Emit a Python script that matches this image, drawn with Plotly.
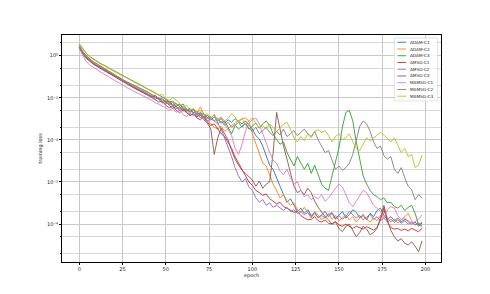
import plotly.graph_objects as go

# epochs sampled every 2 epochs
EPOCHS = list(range(0, 200, 2))

SERIES_NAMES = ["ADAM-C1", "ADAM-C2", "ADAM-C3", "AMSG-C1", "AMSG-C2", "AMSG-C3",
                "MAMSG-C1", "MAMSG-C2", "MAMSG-C3"]

ADAM_C1 = [
    1.74, 1.26, 1.0, 0.83, 0.72, 0.65, 0.575, 0.51, 0.457, 0.407,
    0.363, 0.324, 0.288, 0.257, 0.234, 0.214, 0.191, 0.174, 0.158, 0.145,
    0.135, 0.117, 0.112, 9.5e-2, 9.3e-2, 7.9e-2, 8.3e-2, 6.8e-2, 6.3e-2, 7.1e-2,
    5.5e-2, 4.9e-2, 5.6e-2, 4.4e-2, 4.7e-2, 3.8e-2, 4.2e-2, 3.4e-2, 3.0e-2, 3.5e-2,
    2.8e-2, 3.2e-2, 2.5e-2, 3.0e-2, 2.6e-2, 3.2e-2, 2.75e-2, 2.4e-2, 2.8e-2, 2.2e-2,
    1.8e-2, 1.26e-2, 1.05e-2, 7.1e-3, 4.0e-3, 2.5e-3, 2.0e-3, 1.2e-3, 7.9e-4, 5.0e-4,
    3.3e-4, 4.0e-4, 2.8e-4, 2.0e-4, 2.4e-4, 1.8e-4, 2.2e-4, 1.6e-4, 1.9e-4, 1.4e-4,
    1.66e-4, 2.0e-4, 1.5e-4, 1.8e-4, 1.3e-4, 1.6e-4, 2.0e-4, 1.4e-4, 1.66e-4, 2.2e-4,
    1.9e-4, 1.4e-4, 1.6e-4, 1.26e-4, 1.8e-4, 1.5e-4, 2.1e-4, 2.4e-4, 1.6e-4, 1.3e-4,
    1.5e-4, 1.2e-4, 1.4e-4, 1.12e-4, 1.3e-4, 1.2e-4, 1.0e-4, 1.12e-4, 8.9e-5, 1.05e-4,
]

ADAM_C2 = [
    1.70, 1.23, 0.977, 0.813, 0.708, 0.631, 0.562, 0.501, 0.447, 0.398,
    0.355, 0.316, 0.282, 0.251, 0.229, 0.209, 0.186, 0.170, 0.155, 0.141,
    0.126, 0.120, 0.102, 0.1, 8.3e-2, 8.9e-2, 7.2e-2, 6.6e-2, 7.6e-2, 6.0e-2,
    5.0e-2, 5.5e-2, 4.5e-2, 5.0e-2, 4.5e-2, 6.0e-2, 4.0e-2, 2.8e-2, 2.4e-2, 2.0e-2,
    1.8e-2, 2.1e-2, 1.6e-2, 1.9e-2, 2.2e-2, 2.5e-2, 2.8e-2, 3.2e-2, 3.3e-2, 2.8e-2,
    1.4e-2, 7.9e-3, 5.0e-3, 2.8e-3, 2.4e-3, 1.4e-3, 8.9e-4, 6.3e-4, 4.2e-4, 5.0e-4,
    3.5e-4, 2.8e-4, 3.2e-4, 2.2e-4, 1.9e-4, 2.5e-4, 1.8e-4, 1.4e-4, 2.0e-4, 1.66e-4,
    1.26e-4, 1.5e-4, 1.8e-4, 1.3e-4, 1.6e-4, 1.2e-4, 1.4e-4, 1.66e-4, 1.26e-4, 1.5e-4,
    1.12e-4, 1.4e-4, 1.74e-4, 1.3e-4, 1.12e-4, 1.4e-4, 1.2e-4, 1.6e-4, 2.0e-4, 1.4e-4,
    1.12e-4, 1.3e-4, 1.05e-4, 1.26e-4, 1.5e-4, 1.8e-4, 1.2e-4, 9.5e-5, 1.05e-4, 8.3e-5,
]

ADAM_C3 = [
    1.91, 1.45, 1.15, 0.955, 0.832, 0.741, 0.661, 0.603, 0.537, 0.490,
    0.437, 0.398, 0.355, 0.324, 0.288, 0.263, 0.240, 0.214, 0.195, 0.178,
    0.158, 0.145, 0.129, 0.117, 0.105, 9.3e-2, 7.9e-2, 8.3e-2, 6.9e-2, 6.3e-2,
    7.1e-2, 5.2e-2, 4.7e-2, 5.4e-2, 4.0e-2, 4.4e-2, 3.5e-2, 3.8e-2, 3.2e-2, 2.8e-2,
    3.3e-2, 2.5e-2, 2.8e-2, 1.9e-2, 1.4e-2, 2.2e-2, 2.6e-2, 2.0e-2, 2.4e-2, 1.8e-2,
    2.1e-2, 2.5e-2, 1.9e-2, 2.4e-2, 2.8e-2, 2.2e-2, 1.4e-2, 1.0e-2, 7.9e-3, 8.9e-3,
    5.0e-3, 3.5e-3, 2.4e-3, 4.0e-3, 2.8e-3, 2.0e-3, 2.8e-3, 1.6e-3, 2.5e-3, 1.4e-3,
    8.9e-4, 7.1e-4, 6.3e-4, 1.4e-3, 3.2e-3, 6.3e-3, 2.0e-2, 4.5e-2, 5.0e-2, 2.8e-2,
    8.9e-3, 3.2e-3, 1.4e-3, 8.9e-4, 6.3e-4, 5.0e-4, 4.5e-4, 3.8e-4, 4.2e-4, 3.2e-4,
    3.3e-4, 2.6e-4, 2.4e-4, 2.8e-4, 2.1e-4, 2.5e-4, 2.8e-4, 1.8e-4, 9.5e-5, 1.12e-4,
]

AMSG_C1 = [
    1.58, 1.15, 0.912, 0.759, 0.661, 0.589, 0.525, 0.468, 0.417, 0.372,
    0.331, 0.295, 0.263, 0.234, 0.214, 0.195, 0.174, 0.158, 0.145, 0.132,
    0.120, 0.105, 0.110, 8.9e-2, 7.6e-2, 8.3e-2, 6.6e-2, 5.6e-2, 6.3e-2, 5.0e-2,
    5.5e-2, 4.5e-2, 3.8e-2, 4.2e-2, 3.3e-2, 3.0e-2, 3.5e-2, 2.6e-2, 2.2e-2, 2.4e-2,
    1.8e-2, 1.4e-2, 1.2e-2, 8.9e-3, 6.3e-3, 4.0e-3, 2.8e-3, 2.0e-3, 1.4e-3, 1.0e-3,
    8.3e-4, 6.3e-4, 5.6e-4, 4.8e-4, 5.2e-4, 4.0e-4, 3.5e-4, 3.0e-4, 3.3e-4, 2.6e-4,
    2.4e-4, 2.1e-4, 1.9e-4, 2.0e-4, 1.6e-4, 1.4e-4, 1.26e-4, 1.3e-4, 1.5e-4, 1.2e-4,
    1.12e-4, 1.26e-4, 1.05e-4, 1.0e-4, 1.15e-4, 9.5e-5, 8.9e-5, 1.0e-4, 8.7e-5, 7.9e-5,
    8.9e-5, 8.3e-5, 7.6e-5, 8.7e-5, 7.9e-5, 7.2e-5, 8.3e-5, 1.26e-4, 2.4e-4, 1.12e-4,
    8.3e-5, 7.6e-5, 7.9e-5, 7.1e-5, 7.6e-5, 6.9e-5, 7.9e-5, 7.2e-5, 6.6e-5, 7.9e-5,
]

AMSG_C2 = [
    1.55, 1.12, 0.891, 0.741, 0.646, 0.575, 0.513, 0.457, 0.407, 0.363,
    0.324, 0.288, 0.257, 0.229, 0.209, 0.191, 0.170, 0.155, 0.141, 0.129,
    0.117, 0.107, 9.3e-2, 0.1, 7.9e-2, 7.1e-2, 7.6e-2, 6.3e-2, 5.5e-2, 6.0e-2,
    4.8e-2, 5.2e-2, 4.2e-2, 3.8e-2, 4.4e-2, 3.3e-2, 3.6e-2, 2.8e-2, 3.2e-2, 4.0e-2,
    2.5e-2, 1.8e-2, 1.12e-2, 7.1e-3, 4.0e-3, 2.2e-3, 1.4e-3, 1.0e-3, 1.2e-3, 7.6e-4,
    6.3e-4, 4.2e-4, 3.3e-4, 3.8e-4, 2.8e-4, 3.2e-4, 2.5e-4, 2.8e-4, 2.4e-4, 2.1e-4,
    2.5e-4, 2.0e-4, 2.2e-4, 1.8e-4, 2.0e-4, 1.66e-4, 1.9e-4, 1.5e-4, 1.74e-4, 1.45e-4,
    1.6e-4, 1.4e-4, 1.66e-4, 1.9e-4, 1.4e-4, 1.6e-4, 1.3e-4, 1.5e-4, 2.0e-4, 1.66e-4,
    1.4e-4, 1.6e-4, 1.26e-4, 1.45e-4, 1.74e-4, 1.3e-4, 1.5e-4, 1.2e-4, 1.4e-4, 1.12e-4,
    1.3e-4, 1.1e-4, 1.26e-4, 1.05e-4, 1.2e-4, 1.0e-4, 1.12e-4, 9.5e-5, 1.05e-4, 8.9e-5,
]

AMSG_C3 = [
    1.51, 1.10, 0.871, 0.724, 0.631, 0.562, 0.501, 0.447, 0.398, 0.355,
    0.316, 0.282, 0.251, 0.224, 0.204, 0.186, 0.166, 0.151, 0.138, 0.126,
    0.112, 0.1, 8.9e-2, 7.9e-2, 8.3e-2, 6.6e-2, 5.8e-2, 6.3e-2, 5.0e-2, 4.4e-2,
    5.2e-2, 4.5e-2, 3.8e-2, 4.2e-2, 3.5e-2, 4.0e-2, 3.0e-2, 2.5e-2, 1.8e-2, 4.5e-3,
    1.12e-2, 1.9e-2, 1.4e-2, 1.0e-2, 5.6e-3, 3.5e-3, 2.5e-3, 1.9e-3, 1.6e-3, 1.3e-3,
    1.12e-3, 7.9e-4, 1.05e-3, 7.1e-4, 8.9e-4, 1.0e-3, 5.0e-3, 4.5e-2, 1.8e-2, 7.1e-3,
    3.5e-3, 1.6e-3, 7.9e-4, 5.6e-4, 6.3e-4, 5.0e-4, 7.1e-4, 5.6e-4, 3.5e-4, 2.5e-4,
    1.9e-4, 1.5e-4, 1.26e-4, 1.0e-4, 1.12e-4, 7.9e-5, 6.6e-5, 8.9e-5, 1.0e-4, 7.1e-5,
    5.0e-5, 6.3e-5, 8.9e-5, 7.6e-5, 5.6e-5, 6.3e-5, 7.9e-5, 1.4e-4, 2.8e-4, 1.26e-4,
    7.1e-5, 5.0e-5, 4.0e-5, 4.5e-5, 3.5e-5, 3.2e-5, 3.8e-5, 3.0e-5, 2.2e-5, 4.0e-5,
]

MAMSG_C1 = [
    1.51, 1.0, 0.724, 0.603, 0.525, 0.468, 0.417, 0.372, 0.331, 0.295,
    0.263, 0.234, 0.209, 0.186, 0.170, 0.155, 0.138, 0.126, 0.115, 0.105,
    9.3e-2, 8.7e-2, 7.6e-2, 7.1e-2, 6.3e-2, 5.8e-2, 5.0e-2, 5.6e-2, 4.5e-2, 5.2e-2,
    4.0e-2, 3.5e-2, 4.4e-2, 5.0e-2, 3.8e-2, 4.2e-2, 3.2e-2, 2.6e-2, 3.0e-2, 3.5e-2,
    2.8e-2, 3.3e-2, 2.4e-2, 1.8e-2, 1.26e-2, 6.3e-3, 4.5e-3, 7.9e-3, 1.6e-2, 2.5e-2,
    3.0e-2, 3.3e-2, 2.4e-2, 1.4e-2, 7.9e-3, 5.0e-3, 3.3e-3, 2.8e-3, 1.8e-3, 1.5e-3,
    2.0e-3, 1.26e-3, 8.9e-4, 1.0e-3, 6.3e-4, 4.5e-4, 5.0e-4, 3.8e-4, 4.5e-4, 4.0e-4,
    5.0e-4, 3.5e-4, 4.2e-4, 5.6e-4, 7.1e-4, 8.9e-4, 7.6e-4, 5.0e-4, 3.2e-4, 2.6e-4,
    3.5e-4, 5.0e-4, 6.3e-4, 5.6e-4, 4.0e-4, 2.8e-4, 2.4e-4, 2.0e-4, 1.4e-4, 2.2e-4,
    2.6e-4, 2.4e-4, 1.6e-4, 1.26e-4, 1.4e-4, 1.12e-4, 1.0e-4, 1.12e-4, 1.3e-4, 1.66e-4,
]

MAMSG_C2 = [
    1.62, 1.17, 0.933, 0.776, 0.676, 0.603, 0.537, 0.479, 0.427, 0.380,
    0.339, 0.302, 0.269, 0.240, 0.219, 0.200, 0.178, 0.162, 0.148, 0.135,
    0.123, 0.112, 0.1, 9.1e-2, 9.5e-2, 7.6e-2, 6.9e-2, 7.9e-2, 6.0e-2, 5.5e-2,
    6.3e-2, 4.8e-2, 5.2e-2, 4.2e-2, 3.8e-2, 4.5e-2, 3.5e-2, 3.2e-2, 3.6e-2, 2.8e-2,
    2.4e-2, 2.8e-2, 2.2e-2, 2.6e-2, 2.0e-2, 2.3e-2, 1.8e-2, 2.1e-2, 2.5e-2, 1.9e-2,
    1.6e-2, 2.0e-2, 1.4e-2, 1.66e-2, 2.0e-2, 1.5e-2, 1.26e-2, 1.6e-2, 1.3e-2, 1.8e-2,
    1.2e-2, 1.4e-2, 1.66e-2, 1.26e-2, 1.5e-2, 1.8e-2, 1.4e-2, 1.2e-2, 1.6e-2, 1.0e-2,
    7.1e-3, 5.0e-3, 5.6e-3, 3.5e-3, 2.0e-3, 2.4e-3, 1.9e-3, 2.2e-3, 2.8e-3, 4.5e-3,
    1.0e-2, 2.1e-2, 2.8e-2, 2.4e-2, 1.6e-2, 8.9e-3, 6.3e-3, 7.1e-3, 4.2e-3, 3.5e-3,
    4.0e-3, 2.0e-3, 1.6e-3, 2.2e-3, 1.26e-3, 7.9e-4, 6.6e-4, 3.8e-4, 5.0e-4, 4.2e-4,
]

MAMSG_C3 = [
    1.86, 1.41, 1.12, 0.933, 0.813, 0.724, 0.646, 0.589, 0.525, 0.479,
    0.427, 0.389, 0.347, 0.316, 0.282, 0.257, 0.234, 0.209, 0.191, 0.174,
    0.155, 0.141, 0.126, 0.115, 0.120, 9.5e-2, 8.7e-2, 0.1, 8.9e-2, 7.1e-2,
    6.0e-2, 6.6e-2, 5.0e-2, 5.6e-2, 4.5e-2, 5.0e-2, 3.8e-2, 4.2e-2, 3.3e-2, 4.0e-2,
    3.0e-2, 3.5e-2, 2.8e-2, 3.3e-2, 4.2e-2, 3.5e-2, 2.6e-2, 3.2e-2, 2.4e-2, 2.8e-2,
    3.3e-2, 2.5e-2, 1.9e-2, 2.2e-2, 1.8e-2, 2.4e-2, 2.0e-2, 1.6e-2, 1.9e-2, 2.4e-2,
    2.6e-2, 1.8e-2, 1.12e-2, 8.9e-3, 1.2e-2, 9.5e-3, 1.4e-2, 1.12e-2, 1.6e-2, 1.74e-2,
    1.5e-2, 1.66e-2, 1.26e-2, 8.9e-3, 1.2e-2, 1.4e-2, 1.0e-2, 1.12e-2, 1.4e-2, 8.9e-3,
    6.3e-3, 5.6e-3, 7.9e-3, 1.12e-2, 9.5e-3, 1.1e-2, 1.26e-2, 1.5e-2, 1.3e-2, 1.05e-2,
    8.9e-3, 1.12e-2, 7.1e-3, 5.0e-3, 6.3e-3, 4.0e-3, 4.5e-3, 2.2e-3, 2.5e-3, 4.4e-3,
]

SERIES_VALUES = [ADAM_C1, ADAM_C2, ADAM_C3, AMSG_C1, AMSG_C2, AMSG_C3,
                 MAMSG_C1, MAMSG_C2, MAMSG_C3]

COLORS = ["#1f77b4", "#ff7f0e", "#2ca02c", "#d62728", "#9467bd", "#8c564b",
          "#e377c2", "#7f7f7f", "#bcbd22"]

X_TICKS = [0, 25, 50, 75, 100, 125, 150, 175, 200]
Y_TICKS = [1, 0.1, 0.01, 0.001, 0.0001]
Y_TICK_TEXT = ["10\u2070", "10\u207b\u00b9", "10\u207b\u00b2", "10\u207b\u00b3", "10\u207b\u2074"]

FONT = "DejaVu Sans"
TEXT_COLOR = "#222222"

fig = go.Figure()
for name, vals, color in zip(SERIES_NAMES, SERIES_VALUES, COLORS):
    fig.add_trace(go.Scatter(
        x=EPOCHS[:len(vals)], y=vals, mode="lines", name=name,
        line=dict(color=color, width=0.9), showlegend=False,
    ))

# compact matplotlib-style legend (upper right, inside the axes)
LEG_X0, LEG_X1 = 0.877, 0.991
LEG_TOP, LEG_ROW = 0.987, 0.0297
LEG_PAD = 0.019
n = len(SERIES_NAMES)
shapes = [dict(
    type="rect", xref="paper", yref="paper", layer="above",
    x0=LEG_X0, x1=LEG_X1, y0=LEG_TOP - LEG_ROW * n - 0.010, y1=LEG_TOP,
    fillcolor="rgba(255,255,255,0.85)", line=dict(color="#d0d0d0", width=0.6),
)]
annotations = []
for i, (name, color) in enumerate(zip(SERIES_NAMES, COLORS)):
    yc = LEG_TOP - LEG_PAD - LEG_ROW * i
    shapes.append(dict(
        type="line", xref="paper", yref="paper", layer="above",
        x0=LEG_X0 + 0.008, x1=LEG_X0 + 0.031, y0=yc, y1=yc,
        line=dict(color=color, width=0.9),
    ))
    annotations.append(dict(
        xref="paper", yref="paper", x=LEG_X0 + 0.039, y=yc,
        xanchor="left", yanchor="middle", showarrow=False,
        text=name, font=dict(family=FONT, size=4.2, color=TEXT_COLOR),
        borderpad=0,
    ))

# page body keeps an 8px default margin, so the figure is sized to sit
# at the same place as the reference (axes box 62..441 x 35..262)
fig.update_layout(
    width=482, height=286,
    margin=dict(l=54, r=49, t=27, b=32),
    paper_bgcolor="white", plot_bgcolor="white",
    font=dict(family=FONT, size=5, color=TEXT_COLOR),
    showlegend=False,
    shapes=shapes, annotations=annotations,
)

fig.update_xaxes(
    range=[-9.95, 208.95],
    tickvals=X_TICKS, ticktext=[str(t) for t in X_TICKS],
    showgrid=True, gridcolor="#c8c8c8", gridwidth=0.8,
    zeroline=False,
    showline=True, linecolor="black", linewidth=0.8, mirror=True,
    ticks="outside", ticklen=2, tickwidth=0.6, tickcolor="black",
    tickfont=dict(family=FONT, size=5, color=TEXT_COLOR),
    title=dict(text="epoch", font=dict(family=FONT, size=5, color=TEXT_COLOR), standoff=2),
)

fig.update_yaxes(
    type="log", range=[-4.9, 0.49],
    tickvals=Y_TICKS, ticktext=Y_TICK_TEXT,
    showgrid=True, gridcolor="#c8c8c8", gridwidth=0.8,
    minor=dict(showgrid=True, gridcolor="#d8d8d8", gridwidth=0.6,
               ticks="outside", ticklen=1, tickcolor="black"),
    zeroline=False,
    showline=True, linecolor="black", linewidth=0.8, mirror=True,
    ticks="outside", ticklen=2, tickwidth=0.6, tickcolor="black",
    tickfont=dict(family=FONT, size=5, color=TEXT_COLOR),
    title=dict(text="training loss", font=dict(family=FONT, size=5, color=TEXT_COLOR), standoff=4),
)

fig.write_html("out.html")
